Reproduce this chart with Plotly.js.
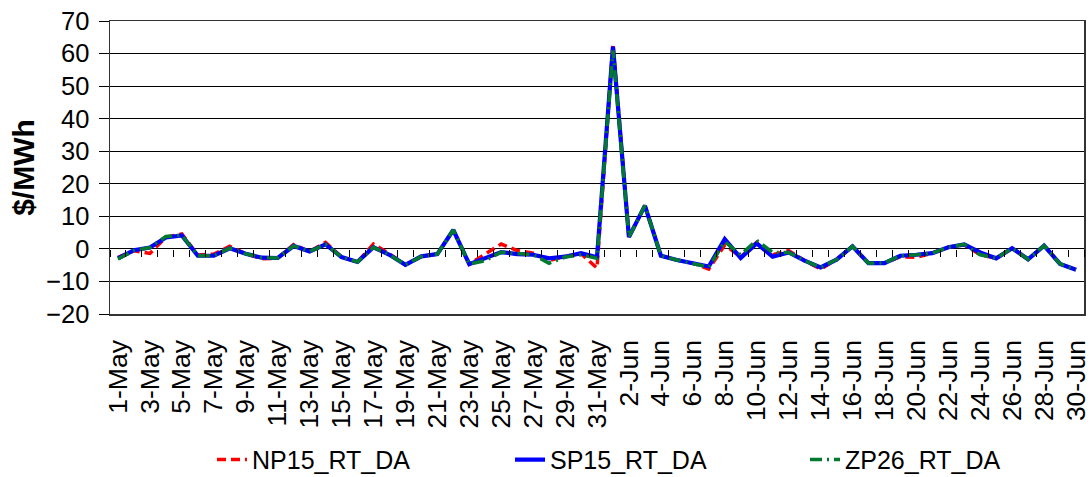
<!DOCTYPE html>
<html>
<head>
<meta charset="utf-8">
<script src="https://cdn.plot.ly/plotly-3.0.1.min.js"></script>
<style>
  html, body { margin: 0; padding: 0; background: #fff; }
  #chart { width: 1091px; height: 477px; }
</style>
</head>
<body>
<div id="chart"></div>
<script>
// Categories: 1-May .. 31-May, 1-Jun .. 30-Jun
const days = [];
for (let d = 1; d <= 31; d++) days.push(d + "-May");
for (let d = 1; d <= 30; d++) days.push(d + "-Jun");

const seriesNames = ["NP15_RT_DA", "SP15_RT_DA", "ZP26_RT_DA"];

const np15 = [
  -2.6, -0.6, -1.4, 3.6, 4.6, -1.9, -1.6, 0.8, -1.5, -3.0,
  -2.9, 1.3, -0.8, 2.0, -2.5, -4.0, 1.5, -1.5, -4.9, -2.3,
  -1.6, 5.8, -4.7, -1.5, 1.5, -0.5, -1.3, -3.6, -2.3, -1.5,
  -5.9, 63.0, 3.6, 13.3, -2.1, -3.4, -4.4, -6.2, 1.2, -2.5,
  2.0, -1.8, -0.5, -3.6, -6.2, -3.3, 0.8, -4.4, -4.4, -2.4,
  -2.6, -1.3, 0.5, 1.2, -1.8, -2.9, 0.2, -3.2, 1.0, -4.6,
  -6.4
];
const sp15 = [
  -2.9, -0.4, 0.4, 3.5, 4.1, -2.1, -2.1, 0.2, -1.5, -2.7,
  -2.8, 0.9, -0.8, 1.4, -2.5, -4.0, 0.5, -1.8, -4.9, -2.3,
  -1.6, 5.8, -4.7, -2.9, -1.0, -1.6, -1.8, -2.9, -2.4, -1.3,
  -2.6, 62.1, 3.6, 13.3, -2.1, -3.4, -4.4, -5.4, 3.0, -2.8,
  1.7, -2.4, -1.1, -3.6, -5.7, -3.3, 0.8, -4.4, -4.4, -2.1,
  -1.8, -1.3, 0.5, 1.4, -1.1, -2.9, 0.2, -3.2, 1.0, -4.6,
  -6.4
];
const zp26 = [
  -3.1, -0.5, 0.4, 3.8, 4.2, -2.1, -2.1, 0.2, -1.5, -2.7,
  -2.8, 0.9, -0.8, 1.4, -2.5, -4.0, 0.5, -1.8, -4.9, -2.3,
  -1.6, 5.8, -4.7, -3.6, -1.0, -1.4, -1.8, -4.4, -2.5, -1.8,
  -2.9, 61.0, 3.6, 13.3, -2.1, -3.4, -4.4, -5.6, 2.2, -1.8,
  2.6, -1.1, -1.1, -3.6, -5.7, -3.3, 0.8, -4.4, -4.3, -2.1,
  -1.8, -1.3, 0.5, 1.4, -1.8, -2.9, 0.2, -3.2, 1.0, -4.6,
  -6.4
];

const yTicks = [-20, -10, 0, 10, 20, 30, 40, 50, 60, 70];
const xTickLabels = days.filter((_, i) => i % 2 === 0);

const FONT = "Liberation Sans, Arial, sans-serif";

const traces = [
  {
    x: days, y: np15, name: seriesNames[0], type: "scatter", mode: "lines",
    line: { color: "#FF0000", width: 3.5, dash: "9px,5px" },
    legend: "legend"
  },
  {
    x: days, y: sp15, name: seriesNames[1], type: "scatter", mode: "lines",
    line: { color: "#0000FF", width: 4.2 },
    legend: "legend2"
  },
  {
    x: days, y: zp26, name: seriesNames[2], type: "scatter", mode: "lines",
    line: { color: "#007A2E", width: 3.5, dash: "12px,5px,2px,5px" },
    xaxis: "x2", legend: "legend3"
  }
];

const legendBase = {
  orientation: "h", xref: "container", yref: "container",
  yanchor: "middle", y: 0.036, xanchor: "left",
  font: { family: FONT, size: 25, color: "#000" },
  bgcolor: "rgba(0,0,0,0)", borderwidth: 0
};

const layout = {
  width: 1091, height: 477,
  margin: { l: 110, r: 7, t: 21, b: 163 },
  paper_bgcolor: "#fff", plot_bgcolor: "#fff",
  font: { family: FONT, color: "#000" },
  xaxis: {
    type: "category", categoryorder: "array", categoryarray: days,
    range: [-0.5, days.length - 0.5],
    tickmode: "array", tickvals: xTickLabels, ticktext: xTickLabels,
    tickangle: -90, ticks: "", showgrid: false, zeroline: false,
    showline: true, mirror: true, linecolor: "#333", linewidth: 1.5,
    tickfont: { family: FONT, size: 26.5, color: "#000" },
    ticklabelstandoff: 14
  },
  xaxis2: {
    type: "category", categoryorder: "array", categoryarray: days,
    range: [-0.5, days.length - 0.5],
    overlaying: "x", anchor: "free", position: 20 / 90, side: "bottom",
    tickmode: "linear", tick0: 0, dtick: 1, tickson: "boundaries",
    ticks: "outside", ticklen: 7, tickwidth: 1, tickcolor: "#000",
    showticklabels: false, showgrid: false, showline: false, zeroline: false
  },
  yaxis: {
    range: [-20, 70], tickmode: "array", tickvals: yTicks,
    showgrid: true, gridcolor: "#000", gridwidth: 1,
    zeroline: true, zerolinecolor: "#000", zerolinewidth: 1,
    ticks: "outside", ticklen: 10, tickcolor: "#000",
    showline: true, mirror: true, linecolor: "#333", linewidth: 1.5,
    tickfont: { family: FONT, size: 25.5, color: "#000" },
    ticklabelstandoff: 4,
    title: { text: "$/MWh", font: { family: FONT, size: 30, color: "#000", weight: "bold" }, standoff: 2 }
  },
  legend: Object.assign({}, legendBase, { x: 212 / 1091 }),
  legend2: Object.assign({}, legendBase, { x: 510 / 1091 }),
  legend3: Object.assign({}, legendBase, { x: 805 / 1091 }),
  showlegend: true
};

Plotly.newPlot("chart", traces, layout, { staticPlot: true, displayModeBar: false });
</script>
</body>
</html>
